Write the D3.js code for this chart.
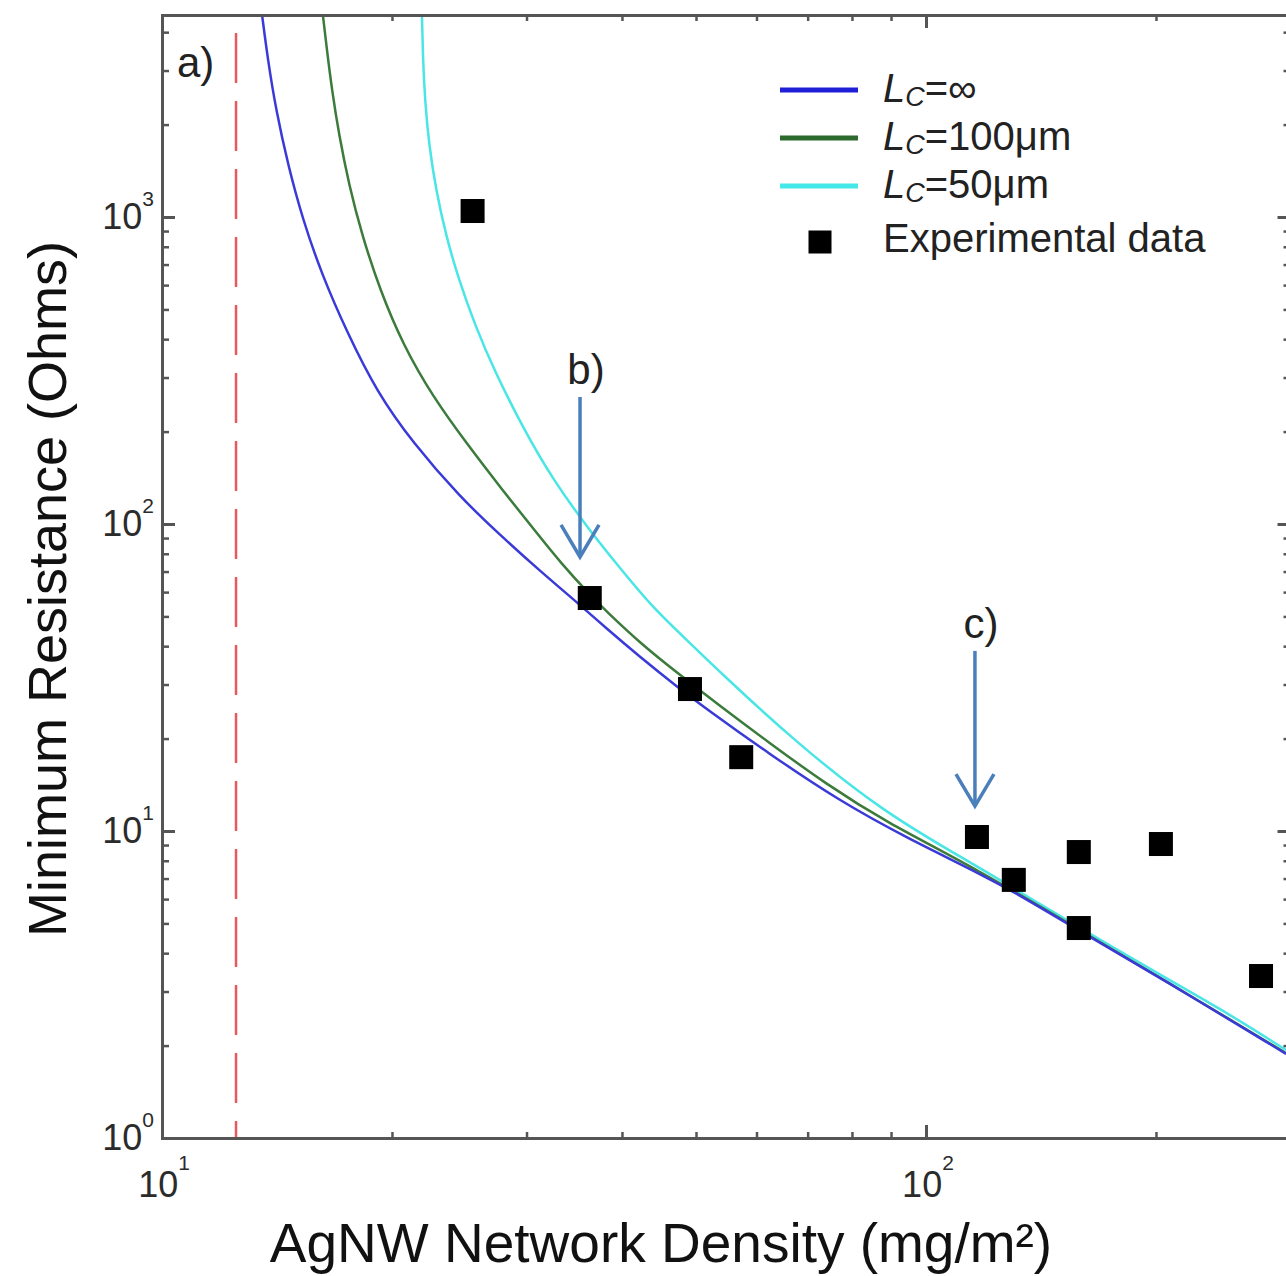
<!DOCTYPE html>
<html>
<head>
<meta charset="utf-8">
<script src="https://d3js.org/d3.v7.min.js"></script>
<style>
    body { margin: 0; background: #fff; }
    svg { display: block; font-family: "Liberation Sans", Arial, sans-serif; }
    .axis path, .axis line { stroke: #555; stroke-width: 3; }
    .axis.minor line { stroke-width: 2.5; }
    .axis.minor path { display: none; }
    .ticklabel { font-size: 36px; fill: #2b2b2b; }
    .curve { fill: none; stroke-width: 2.5; }
</style>
</head>
<body>
<script>

    // experimental data (density mg/m2, resistance Ohms)
    var expDensity    = [25.5, 36.3, 49.1, 57.3, 116.6, 130.3, 158.5, 158.5, 203, 274.5];
    var expResistance = [1046, 57.4, 29.0, 17.4, 9.56, 6.93, 8.54, 4.83, 9.07, 3.37];

    // model curve Lc = infinity
    var lcInfDensity = [13.52, 13.76, 14.10, 14.62, 15.29, 16.20, 17.46, 19.11, 21.31, 24.55, 27.70, 31.24,
                        35.25, 38.12, 42.24, 47.09, 51.84, 62.12, 76.69, 94.43, 116.6, 134.0, 160.5, 203.7, 296.0];
    var lcInfR       = [4550, 3246, 2231, 1477, 977.8, 647.3, 422.0, 269.1, 183.6, 122.4, 92.1, 70.3,
                        54.5, 45.85, 36.88, 29.67, 24.78, 17.95, 12.62, 9.49, 7.35, 6.10, 4.65, 3.30, 1.88];

    // model curve Lc = 100um
    var lc100Density = [16.24, 16.44, 16.69, 17.05, 17.57, 18.27, 19.29, 20.68, 22.63, 25.08, 27.70, 31.24, 33.19,
                        36.33, 38.12, 42.24, 47.09, 53.74, 62.12, 73.97, 88.10, 116.6, 160.5, 203.7, 296.0];
    var lc100R       = [4550, 3499, 2593, 1850, 1271, 873.7, 578.3, 382.9, 259.3, 182.2, 132.0, 90.7, 75.2,
                        58.7, 52.1, 40.96, 32.96, 25.54, 19.50, 14.23, 10.78, 7.52, 4.69, 3.30, 1.89];

    // model curve Lc = 50um
    var lc50Density = [21.89, 21.96, 22.09, 22.36, 22.84, 23.54, 24.47, 25.68, 27.28, 29.69, 32.50, 36.33,
                       39.76, 43.92, 49.10, 54.08, 66.57, 88.10, 116.6, 134.0, 165.0, 203.7, 250.7, 296.0];
    var lc50R       = [4550, 3246, 2405, 1716, 1224, 867.2, 623.6, 444.8, 312.7, 205.5, 139.1, 94.9,
                       71.9, 53.26, 40.96, 32.46, 20.09, 11.44, 7.69, 6.23, 4.585, 3.37, 2.516, 1.934];

    // percolation threshold (dashed red line)
    var thresholdDensity = 12.5;

    // arrows b) and c)
    var arrowLabels  = ["b)", "c)"];
    var arrowDensity = [35.25, 115.9];
    var arrowTopR    = [259.3, 38.6];
    var arrowTipR    = [78.1, 12.06];

    // ticks
    var xMajor = [10, 100];
    var xMinor = [20, 30, 40, 50, 60, 70, 80, 90, 200];
    var xTickExp = ["1", "2"];
    var yMajor = [1, 10, 100, 1000];
    var yMinor = [2, 3, 4, 5, 6, 7, 8, 9, 20, 30, 40, 50, 60, 70, 80, 90,
                  200, 300, 400, 500, 600, 700, 800, 900, 2000, 3000, 4000];
    var yTickExp = ["0", "1", "2", "3"];

    var seriesNames  = ["=\u221e", "=100\u03bcm", "=50\u03bcm"];
    var seriesColors = ["#3a3ad8", "#3b7b3b", "#4ae6e6"];
    var legendColors = ["#1f1fd8", "#2d6a2d", "#45e8e8"];

    var W = 1286, H = 1276;
    var pL = 162, pT = 15, pB = 1138, pR = 1290.5;

    var x = d3.scaleLog().domain([10, 300]).range([pL, pR]);
    var y = d3.scaleLog().domain([1, 4550]).range([pB, pT]);

    var svg = d3.select("body").append("svg")
        .attr("width", W)
        .attr("height", H);

    svg.append("defs").append("clipPath").attr("id", "plot")
        .append("rect")
        .attr("x", pL).attr("y", pT)
        .attr("width", pR - pL).attr("height", pB - pT);

    var plot = svg.append("g").attr("clip-path", "url(#plot)");

    // dashed threshold line
    plot.append("line")
        .attr("x1", x(thresholdDensity)).attr("x2", x(thresholdDensity))
        .attr("y1", pT).attr("y2", pB)
        .attr("stroke", "#e65a5e")
        .attr("stroke-width", 2.5)
        .attr("stroke-dasharray", "50,18")
        .attr("stroke-dashoffset", 50);

    // model curves (smoothed through the read-off points)
    var line = d3.line()
        .x(function(d) { return x(d[0]); })
        .y(function(d) { return y(d[1]); })
        .curve(d3.curveBasis);

    var curves = [
        d3.zip(lcInfDensity, lcInfR),
        d3.zip(lc100Density, lc100R),
        d3.zip(lc50Density, lc50R)
    ];
    // draw cyan first so blue/green sit on top near the merge
    [2, 1, 0].forEach(function(i) {
        plot.append("path")
            .attr("class", "curve")
            .attr("stroke", seriesColors[i])
            .attr("d", line(curves[i]));
    });

    // experimental squares
    var sq = 24;
    plot.selectAll("rect.pt")
        .data(d3.zip(expDensity, expResistance))
        .enter().append("rect")
        .attr("class", "pt")
        .attr("x", function(d) { return x(d[0]) - sq / 2; })
        .attr("y", function(d) { return y(d[1]) - sq / 2; })
        .attr("width", sq).attr("height", sq)
        .attr("fill", "#000");

    // arrows
    arrowLabels.forEach(function(lab, i) {
        var ax = x(arrowDensity[i]), y0 = y(arrowTopR[i]), y1 = y(arrowTipR[i]);
        var g = svg.append("g").attr("stroke", "#4a7fbc").attr("stroke-width", 3.5).attr("fill", "none");
        g.append("line").attr("x1", ax).attr("x2", ax).attr("y1", y0).attr("y2", y1);
        g.append("path").attr("d", "M" + (ax - 19) + "," + (y1 - 32) + "L" + ax + "," + y1 + "L" + (ax + 19) + "," + (y1 - 32));
        svg.append("text")
            .attr("x", ax + 6).attr("y", y0 - 13)
            .attr("text-anchor", "middle")
            .attr("font-size", 42)
            .attr("fill", "#222")
            .text(lab);
    });

    svg.append("text")
        .attr("x", 177).attr("y", 77)
        .attr("font-size", 42)
        .attr("fill", "#222")
        .text("a)");

    // axes: all ticks point inward
    function drawAxis(gen, scale, vals, size, cls, tr) {
        svg.append("g")
            .attr("class", "axis " + cls)
            .attr("transform", tr)
            .call(gen(scale).tickValues(vals).tickSize(size).tickSizeOuter(0).tickFormat(""));
    }
    drawAxis(d3.axisBottom, x, xMinor, -6, "minor", "translate(0," + pB + ")");
    drawAxis(d3.axisTop, x, xMinor, -6, "minor", "translate(0," + pT + ")");
    drawAxis(d3.axisLeft, y, yMinor, -7, "minor", "translate(" + pL + ",0)");
    drawAxis(d3.axisRight, y, yMinor, -7, "minor", "translate(" + pR + ",0)");
    drawAxis(d3.axisBottom, x, xMajor, -13, "major", "translate(0," + pB + ")");
    drawAxis(d3.axisTop, x, xMajor, -13, "major", "translate(0," + pT + ")");
    drawAxis(d3.axisLeft, y, yMajor, -13, "major", "translate(" + pL + ",0)");
    drawAxis(d3.axisRight, y, yMajor, -13, "major", "translate(" + pR + ",0)");
    svg.selectAll(".axis path").attr("stroke-linecap", "square");

    // tick labels 10^n
    yMajor.forEach(function(v, i) {
        var t = svg.append("text").attr("class", "ticklabel")
            .attr("x", 154).attr("y", y(v) + 12)
            .attr("text-anchor", "end");
        t.append("tspan").text("10");
        t.append("tspan").attr("dy", -23).attr("font-size", 21).text(yTickExp[i]);
    });
    xMajor.forEach(function(v, i) {
        var t = svg.append("text").attr("class", "ticklabel")
            .attr("x", x(v) + 2).attr("y", 1197)
            .attr("text-anchor", "middle");
        t.append("tspan").text("10");
        t.append("tspan").attr("dy", -27).attr("font-size", 21).text(xTickExp[i]);
    });

    // axis titles
    svg.append("text")
        .attr("x", 661).attr("y", 1262)
        .attr("text-anchor", "middle")
        .attr("font-size", 55)
        .attr("fill", "#111")
        .text("AgNW Network Density (mg/m\u00b2)");

    svg.append("text")
        .attr("transform", "translate(66,589) rotate(-90)")
        .attr("text-anchor", "middle")
        .attr("font-size", 54)
        .attr("fill", "#111")
        .text("Minimum Resistance (Ohms)");

    // legend
    var legend = svg.append("g");
    seriesNames.forEach(function(name, i) {
        var ly = 90 + i * 48;
        legend.append("line")
            .attr("x1", 780).attr("x2", 858)
            .attr("y1", ly).attr("y2", ly)
            .attr("stroke", legendColors[i])
            .attr("stroke-width", 5);
        var t = legend.append("text")
            .attr("x", 883).attr("y", ly + 12)
            .attr("font-size", 40)
            .attr("fill", "#222");
        t.append("tspan").attr("font-style", "italic").text("L");
        t.append("tspan").attr("font-style", "italic").attr("font-size", 27).attr("dy", 4).text("C");
        t.append("tspan").attr("dy", -4).text(name);
    });
    legend.append("rect")
        .attr("x", 820 - 11.5).attr("y", 242 - 11.5)
        .attr("width", 23).attr("height", 23)
        .attr("fill", "#000");
    legend.append("text")
        .attr("x", 883).attr("y", 252)
        .attr("font-size", 40)
        .attr("fill", "#222")
        .text("Experimental data");

</script>
</body>
</html>
